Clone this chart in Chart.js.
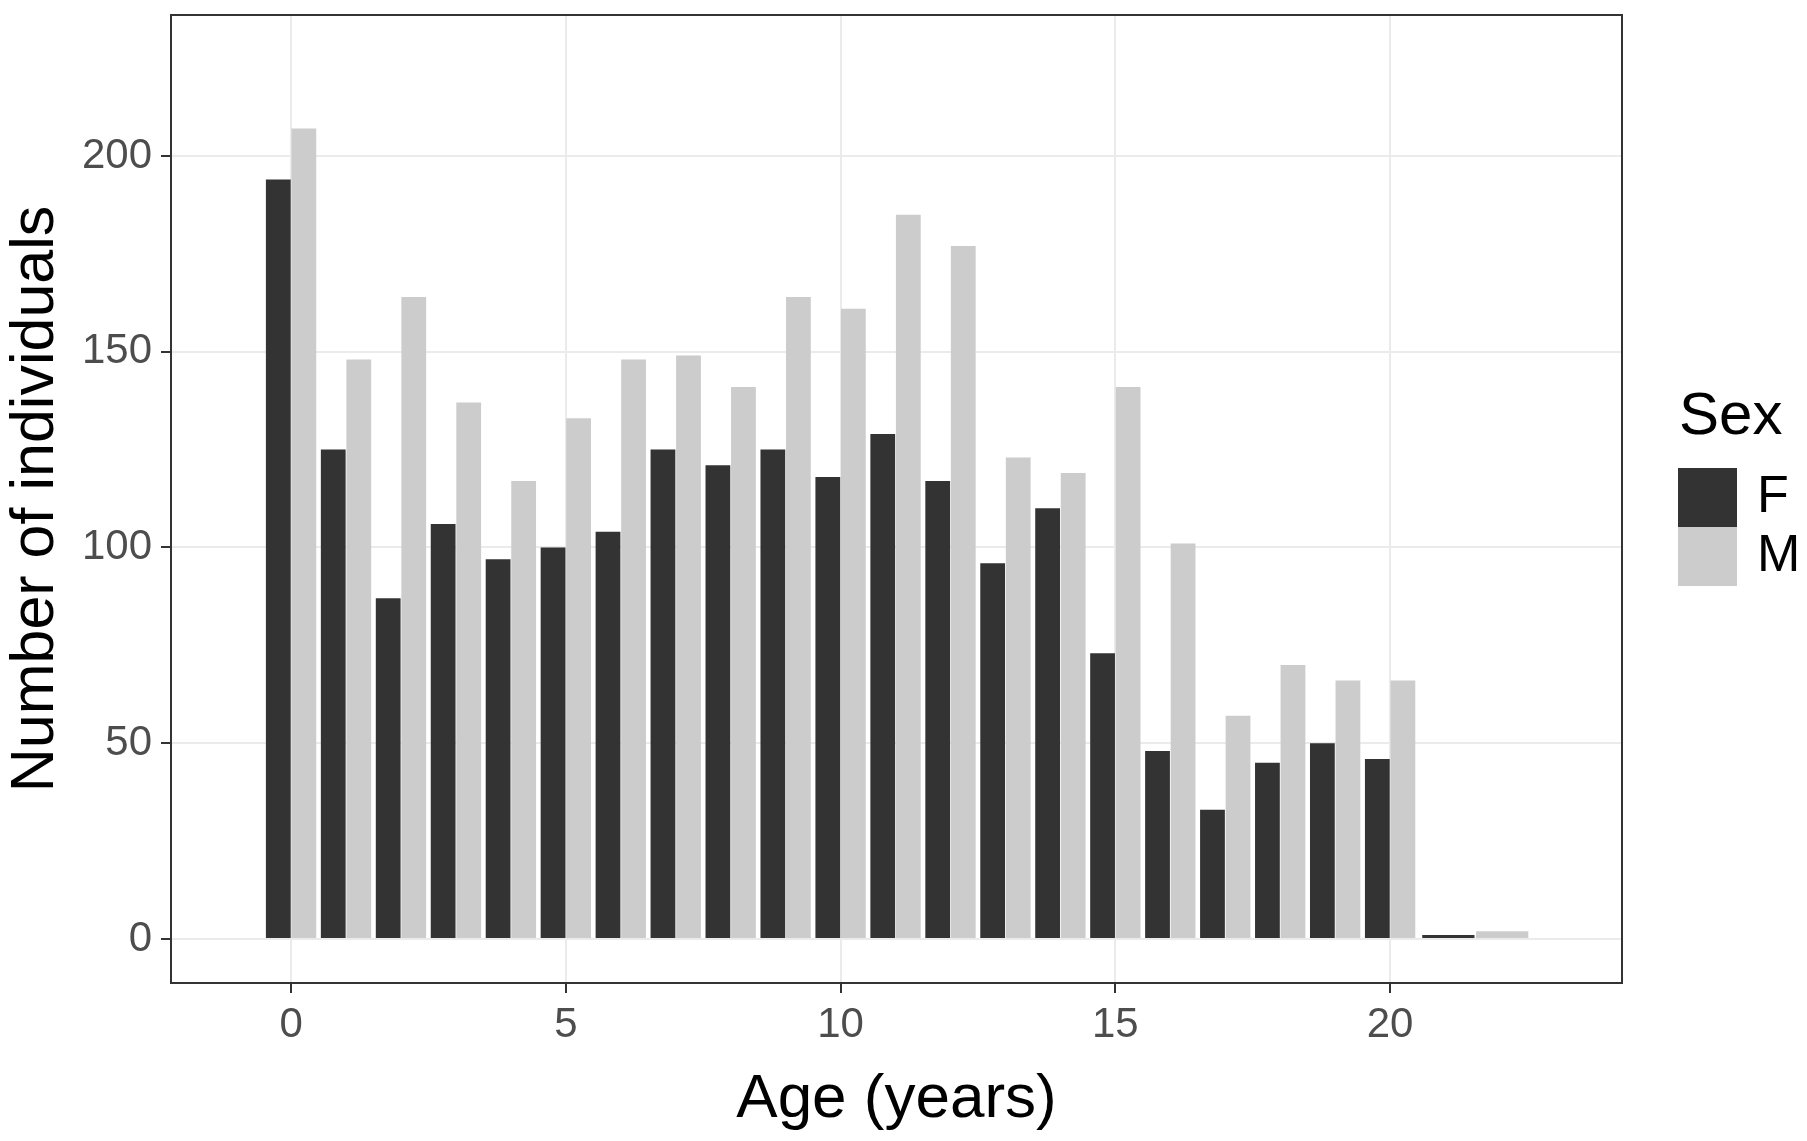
<!DOCTYPE html>
<html>
<head>
<meta charset="utf-8">
<script src="https://cdn.jsdelivr.net/npm/chart.js@4.4.1/dist/chart.umd.min.js"></script>
<style>
  html, body { margin: 0; padding: 0; background: #ffffff; }
  #wrap { width: 1807px; height: 1141px; }
</style>
</head>
<body>
<div id="wrap"><canvas id="ageChart"></canvas></div>
<script>
// one bin per year of age, 0 to 20
const ages = [0, 1, 2, 3, 4, 5, 6, 7, 8, 9, 10, 11, 12, 13, 14, 15, 16, 17, 18, 19, 20];
const femaleCounts = [194, 125, 87, 106, 97, 100, 104, 125, 121, 125, 118, 129, 117, 96, 110, 73, 48, 33, 45, 50, 46];
const maleCounts = [207, 148, 164, 137, 117, 133, 148, 149, 141, 164, 161, 185, 177, 123, 119, 141, 101, 57, 70, 66, 66];

// the oldest bin is twice as wide
const lastBinAge = [21.55];
const femaleLast = [1];
const maleLast = [2];

const xTicks = [0, 5, 10, 15, 20];
const yTicks = [0, 50, 100, 150, 200];

const sexLabels = ['F', 'M'];
const sexColors = ['#333333', '#cccccc'];

const fontFamily = '"Liberation Sans", Arial, Helvetica, sans-serif';
Chart.defaults.font.family = fontFamily;

function points(xs, ys) {
    return xs.map((x, i) => ({ x: x, y: ys[i] }));
}

const panelBorder = {
    id: 'panelBorder',
    afterDatasetsDraw(chart) {
        const { ctx, chartArea: a } = chart;
        ctx.save();
        ctx.strokeStyle = '#333333';
        ctx.lineWidth = 2;
        ctx.strokeRect(a.left, a.top, a.right - a.left, a.bottom - a.top);
        ctx.restore();
    }
};

const sexLegend = {
    id: 'sexLegend',
    afterDraw(chart) {
        const ctx = chart.ctx;
        const keyX = 1678, keyTop = 468, keySize = 59;
        ctx.save();
        ctx.fillStyle = '#000000';
        ctx.font = '60px ' + fontFamily;
        ctx.textBaseline = 'alphabetic';
        ctx.fillText('Sex', 1679, 434);
        chart.data.datasets.slice(0, 2).forEach((ds, i) => {
            const y = keyTop + i * keySize;
            ctx.fillStyle = ds.backgroundColor;
            ctx.fillRect(keyX, y, keySize, keySize);
            ctx.fillStyle = '#000000';
            ctx.font = '52px ' + fontFamily;
            ctx.textBaseline = 'middle';
            ctx.fillText(ds.label, keyX + keySize + 20, y + keySize / 2);
        });
        ctx.restore();
    }
};

const barCommon = { borderWidth: 0, barPercentage: 0.97, skipNull: true };

new Chart(document.getElementById('ageChart'), {
    type: 'bar',
    data: {
        datasets: [
            { ...barCommon, label: sexLabels[0], data: points(ages, femaleCounts), backgroundColor: sexColors[0], categoryPercentage: 0.93 },
            { ...barCommon, label: sexLabels[1], data: points(ages, maleCounts), backgroundColor: sexColors[1], categoryPercentage: 0.93 },
            { ...barCommon, label: sexLabels[0], data: points(lastBinAge, femaleLast), backgroundColor: sexColors[0], categoryPercentage: 1.96 },
            { ...barCommon, label: sexLabels[1], data: points(lastBinAge, maleLast), backgroundColor: sexColors[1], categoryPercentage: 1.96 }
        ]
    },
    options: {
        responsive: true,
        maintainAspectRatio: false,
        animation: false,
        layout: { padding: { top: 15, right: 185, left: 0, bottom: 0 } },
        plugins: {
            legend: { display: false },
            tooltip: { enabled: false }
        },
        scales: {
            x: {
                type: 'linear',
                min: -2.185,
                max: 24.22,
                offset: false,
                afterBuildTicks: s => { s.ticks = xTicks.map(v => ({ value: v })); },
                afterFit: s => { s.height = 158; s.paddingLeft = 0; s.paddingRight = 0; },
                grid: { color: '#ebebeb', lineWidth: 2, offset: false, drawTicks: true, tickLength: 10, tickColor: '#333333', tickWidth: 2 },
                border: { display: false },
                ticks: { color: '#4d4d4d', font: { size: 42 }, padding: 7, maxRotation: 0, autoSkip: false },
                title: { display: true, text: 'Age (years)', color: '#000000', font: { size: 62 }, padding: { top: 0, bottom: 4 } }
            },
            y: {
                min: -11.24,
                max: 236,
                afterBuildTicks: s => { s.ticks = yTicks.map(v => ({ value: v })); },
                afterFit: s => { s.width = 171; s.paddingTop = 0; s.paddingBottom = 0; },
                grid: { color: '#ebebeb', lineWidth: 2, drawTicks: true, tickLength: 10, tickColor: '#333333', tickWidth: 2 },
                border: { display: false },
                ticks: { color: '#4d4d4d', font: { size: 42 }, padding: 9, autoSkip: false },
                title: { display: true, text: 'Number of individuals', color: '#000000', font: { size: 61 }, padding: { top: 0, bottom: 0 } }
            }
        }
    },
    plugins: [panelBorder, sexLegend]
});
</script>
</body>
</html>
